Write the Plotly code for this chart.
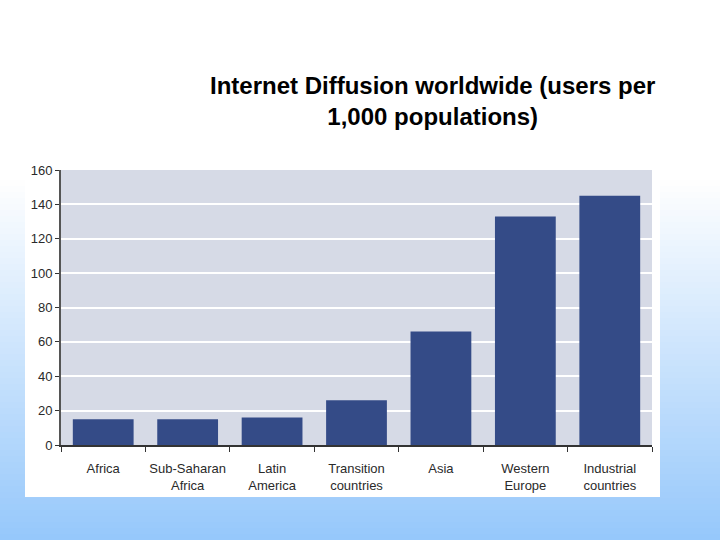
import plotly.graph_objects as go

regions = ["Africa", "Sub-Saharan<br>Africa", "Latin<br>America", "Transition<br>countries",
           "Asia", "Western<br>Europe", "Industrial<br>countries"]
users_per_1000 = [15, 15, 16, 26, 66, 133, 145]
y_ticks = [0, 20, 40, 60, 80, 100, 120, 140, 160]

W, H = 720, 540
L, R, T, B = 61, 652, 170, 445   # plot area in pixels


def px(x):
    return (x - L) / (R - L)


def py(y):
    return (B - y) / (B - T)


fig = go.Figure()
fig.add_trace(go.Bar(x=regions, y=users_per_1000, width=0.72,
                     marker=dict(color="#344b87", line=dict(width=0))))

shapes = []
# slide background: white fading to light blue
top, bottom = 180, 540
steps = 60
for i in range(steps):
    y0 = top + (bottom - top) * i / steps
    y1 = top + (bottom - top) * (i + 1) / steps + 1
    t = (i + 0.5) / steps
    r = int(255 + (150 - 255) * t)
    g = int(255 + (200 - 255) * t)
    b = int(255 + (251 - 255) * t)
    shapes.append(dict(type="rect", xref="paper", yref="paper", layer="below",
                       x0=px(0), x1=px(W), y0=py(y1), y1=py(y0),
                       fillcolor=f"rgb({r},{g},{b})", line=dict(width=0)))
# white chart card
shapes.append(dict(type="rect", xref="paper", yref="paper", layer="below",
                   x0=px(25), x1=px(660), y0=py(497), y1=py(163),
                   fillcolor="white", line=dict(width=0)))
# plot area fill
shapes.append(dict(type="rect", xref="paper", yref="paper", layer="below",
                   x0=0, x1=1, y0=0, y1=1,
                   fillcolor="#d6dae6", line=dict(width=0)))

fig.update_layout(
    width=W, height=H,
    margin=dict(l=L, r=W - R, t=T, b=H - B, pad=0, autoexpand=False),
    paper_bgcolor="white",
    plot_bgcolor="#d6dae6",
    showlegend=False,
    bargap=0.28,
    shapes=shapes,
    font=dict(family="Liberation Sans, Arial, sans-serif", color="#222222", size=13),
    annotations=[dict(text="<b>Internet Diffusion worldwide (users per<br>1,000 populations)</b>",
                      xref="paper", yref="paper", x=px(432), y=py(101),
                      xanchor="center", yanchor="middle",
                      showarrow=False, align="center",
                      font=dict(size=24, color="black",
                                family="Liberation Sans, Arial, sans-serif"))],
)
fig.update_xaxes(showline=True, linecolor="#333333", linewidth=1.5, automargin=False,
                 ticks="outside", tickson="boundaries", ticklen=5, tickcolor="#333333",
                 showgrid=False, tickangle=0, ticklabelstandoff=11,
                 tickfont=dict(size=13, color="#2a2a2a"))
fig.update_yaxes(range=[0, 160], tickvals=y_ticks, showline=True, linecolor="#555555",
                 linewidth=2, ticks="outside", ticklen=4, tickcolor="#333333", automargin=False,
                 gridcolor="white", gridwidth=1.5, zeroline=False,
                 tickfont=dict(size=13, color="#2a2a2a"))

fig.write_html("out.html", config={"displayModeBar": False},
               post_script="document.body.style.margin='0';")
